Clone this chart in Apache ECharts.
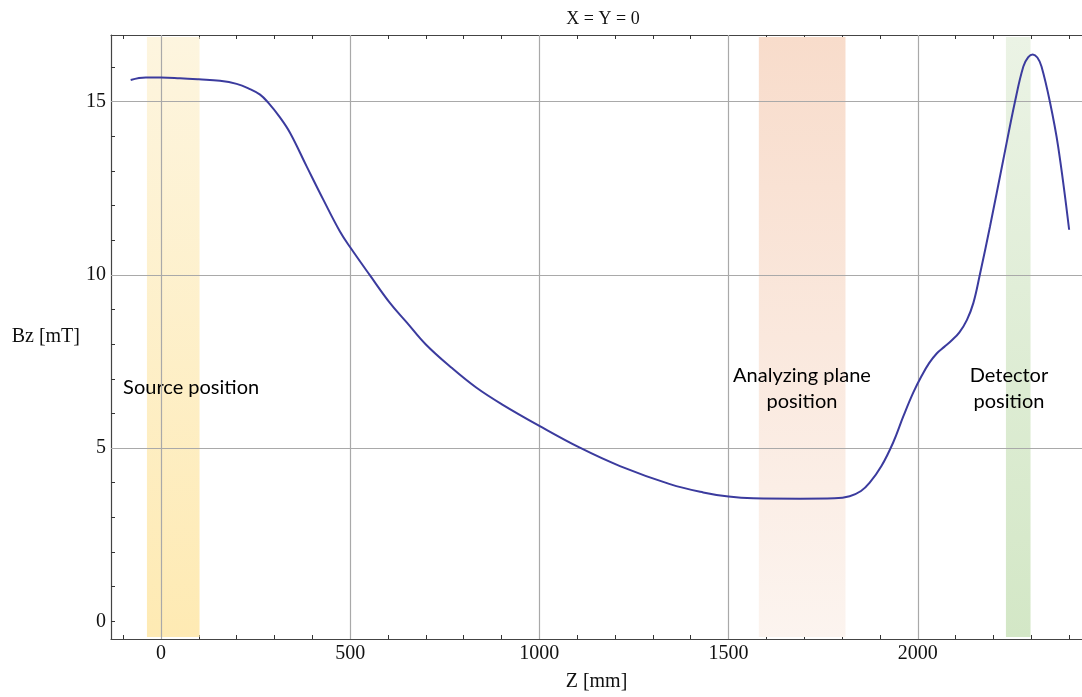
<!DOCTYPE html>
<html>
<head>
<meta charset="utf-8">
<script src="https://cdn.jsdelivr.net/npm/echarts@6/dist/echarts.min.js"></script>
<style>
  html, body { margin: 0; padding: 0; background: #ffffff; }
  #chart { width: 1082px; height: 697px; }
</style>
</head>
<body>
<div id="chart"></div>
<script>
// Axial magnetic field Bz on the beam axis (X = Y = 0) versus position Z
const zValues = [-80, -40, 0, 50, 100, 156, 200, 235, 262, 284, 314, 341, 385, 429, 473, 501, 552, 605, 650, 700, 770, 834,
  900, 1000, 1107, 1213, 1345, 1433, 1500, 1565, 1689, 1780, 1820, 1850, 1873, 1904, 1935, 1962, 1988, 2010,
  2030, 2050, 2070, 2090, 2110, 2130, 2147, 2164, 2191, 2226, 2257, 2279, 2292, 2304, 2316, 2327, 2349, 2371, 2400];
const bzValues = [15.62, 15.69, 15.69, 15.67, 15.64, 15.60, 15.51, 15.36, 15.20, 14.96, 14.55, 14.10, 13.13, 12.17, 11.25, 10.78, 9.99, 9.19, 8.62, 7.99, 7.30, 6.74,
  6.27, 5.64, 5.01, 4.48, 3.96, 3.72, 3.60, 3.55, 3.54, 3.55, 3.61, 3.76, 4.00, 4.48, 5.16, 5.92, 6.60, 7.08,
  7.45, 7.73, 7.92, 8.11, 8.34, 8.70, 9.19, 10.0, 11.40, 13.32, 15.0, 16.01, 16.28, 16.36, 16.27, 16.01, 15.0, 13.70, 11.30];

// Shaded regions along Z
const bandStarts = [-37, 1580, 2233];
const bandEnds = [102, 1809, 2298];
const bandLabels = ['Source position', 'Analyzing plane\nposition', 'Detector\nposition'];
const bandLabelZ = [-100, 1694, 2241];
const bandLabelBz = [6.75, 6.72, 6.72];
const bandTopColors = ['#fdf5df', '#f8dccb', '#ebf3e5'];
const bandBottomColors = ['#feeab3', '#fcf4ef', '#d3e7c6'];

// Axis ticks, labels and grid
const xTicks = [-100, 0, 100, 200, 300, 400, 500, 600, 700, 800, 900, 1000, 1100, 1200, 1300, 1400,
  1500, 1600, 1700, 1800, 1900, 2000, 2100, 2200, 2300, 2400];
const xLabels = [0, 500, 1000, 1500, 2000];
const yTicks = [0, 1, 2, 3, 4, 5, 6, 7, 8, 9, 10, 11, 12, 13, 14, 15, 16];
const yLabels = [0, 5, 10, 15];
const xGrid = [0, 500, 1000, 1500, 2000];
const yGrid = [5, 10, 15];

const X_MIN = -132, X_MAX = 2434, Y_MIN = -0.51, Y_MAX = 16.92;
const serif = '"Liberation Serif", "DejaVu Serif", serif';
const sans = 'Lato, "Open Sans", sans-serif';
const plain = v => String(v);

const chart = echarts.init(document.getElementById('chart'), null, { renderer: 'canvas' });

const curve = zValues.map((z, i) => [z, bzValues[i]]);

function ticks(values) {
  return { show: true, inside: true, length: 4, customValues: values, lineStyle: { color: '#333', width: 1 } };
}
const axisLineStyle = { show: true, onZero: false, lineStyle: { color: '#444', width: 1.2 } };

chart.setOption({
  animation: false,
  backgroundColor: '#ffffff',
  title: {
    text: 'X = Y = 0',
    left: 598, top: 5,
    textAlign: 'center',
    textStyle: { fontFamily: serif, fontSize: 18, fontWeight: 'normal', color: '#111' }
  },
  grid: { left: 111, right: 0, top: 35, bottom: 57, containLabel: false },
  xAxis: [
    {
      type: 'value', position: 'bottom', min: X_MIN, max: X_MAX,
      name: 'Z [mm]', nameLocation: 'middle', nameGap: 33,
      nameTextStyle: { fontFamily: serif, fontSize: 20, color: '#111' },
      axisLine: axisLineStyle,
      axisTick: ticks(xTicks),
      axisLabel: { customValues: xLabels, formatter: plain, margin: 5, fontFamily: serif, fontSize: 20, color: '#111' },
      splitLine: { show: false }
    },
    {
      type: 'value', position: 'top', min: X_MIN, max: X_MAX,
      axisLine: axisLineStyle,
      axisTick: ticks(xTicks),
      axisLabel: { show: false },
      splitLine: { show: false }
    }
  ],
  yAxis: {
    type: 'value', min: Y_MIN, max: Y_MAX,
    name: 'Bz [mT]', nameLocation: 'middle', nameRotate: 0, nameGap: 31,
    nameTextStyle: { fontFamily: serif, fontSize: 20, color: '#111', align: 'right' },
    axisLine: axisLineStyle,
    axisTick: ticks(yTicks),
    axisLabel: { customValues: yLabels, formatter: plain, margin: 5, fontFamily: serif, fontSize: 20, color: '#111' },
    splitLine: { show: false }
  },
  series: [
    {
      // shaded regions
      type: 'line', data: [], z: 1, silent: true,
      markArea: {
        silent: true,
        data: bandStarts.map((s, i) => [
          {
            xAxis: s, yAxis: -0.45,
            itemStyle: {
              color: {
                type: 'linear', x: 0, y: 0, x2: 0, y2: 1,
                colorStops: [
                  { offset: 0, color: bandTopColors[i] },
                  { offset: 1, color: bandBottomColors[i] }
                ]
              }
            }
          },
          { xAxis: bandEnds[i], yAxis: 16.86 }
        ]),
        label: { show: false }
      }
    },
    {
      // grid lines
      type: 'line', data: [], z: 2, silent: true,
      markLine: {
        silent: true, symbol: 'none', animation: false,
        label: { show: false },
        lineStyle: { color: '#a9a9a9', width: 1.2, type: 'solid' },
        data: xGrid.map(v => ({ xAxis: v })).concat(yGrid.map(v => ({ yAxis: v })))
      }
    },
    {
      // region captions
      type: 'scatter', z: 4, silent: true, symbolSize: 0,
      itemStyle: { opacity: 1 },
      data: bandLabelZ.map((z, i) => ({
        value: [z, bandLabelBz[i]],
        label: {
          show: true, position: 'inside',
          formatter: bandLabels[i],
          align: i === 0 ? 'left' : 'center',
          verticalAlign: 'middle',
          fontFamily: sans, fontSize: 20, lineHeight: 26, color: '#000',
          textBorderWidth: 0
        }
      }))
    },
    {
      name: 'Bz', type: 'line', z: 5, data: curve,
      showSymbol: false, smooth: 0.4,
      lineStyle: { color: '#3b3b9e', width: 2 }
    }
  ]
});
</script>
</body>
</html>
